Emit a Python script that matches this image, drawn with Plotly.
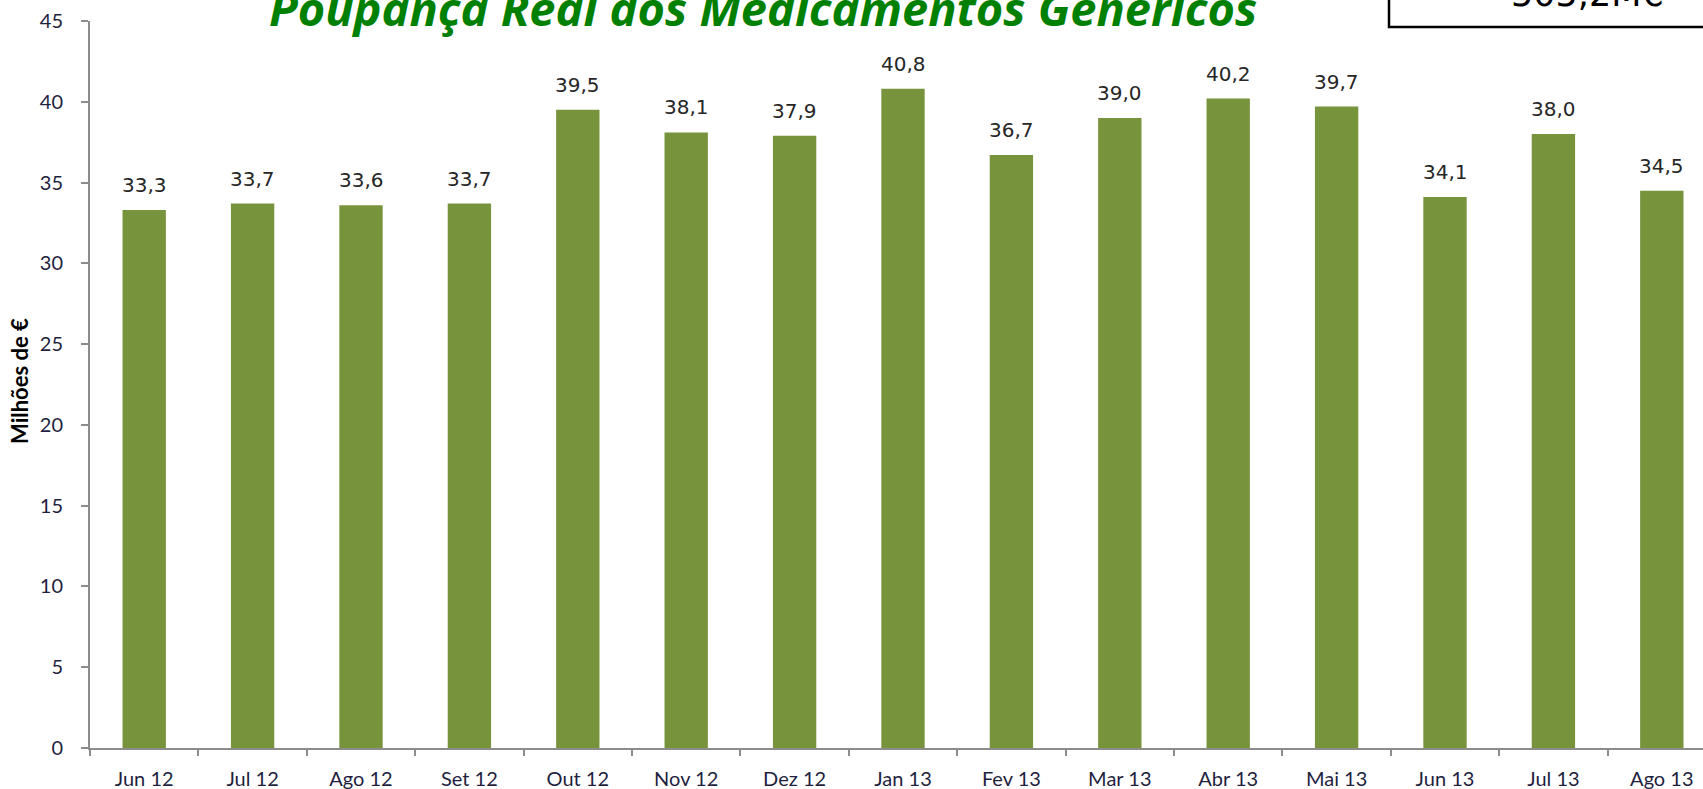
import plotly.graph_objects as go

categories = ["Jun 12", "Jul 12", "Ago 12", "Set 12", "Out 12", "Nov 12", "Dez 12",
              "Jan 13", "Fev 13", "Mar 13", "Abr 13", "Mai 13", "Jun 13", "Jul 13", "Ago 13"]
values = [33.3, 33.7, 33.6, 33.7, 39.5, 38.1, 37.9, 40.8, 36.7, 39.0, 40.2, 39.7, 34.1, 38.0, 34.5]
y_ticks = [0, 5, 10, 15, 20, 25, 30, 35, 40, 45]
title_text = "Poupança Real dos Medicamentos Genéricos"
total_text = "505,2M€"
y_title = "Milhões de €"

W, H = 1703, 789
ML, MR, MT, MB = 90, 0, 21, 41
PW, PH = W - ML - MR, H - MT - MB

def px_to_paper_x(px):
    return (px - ML) / PW

def px_to_paper_y(py):
    return 1 + (MT - py) / PH

fig = go.Figure()
fig.add_trace(go.Bar(
    x=categories, y=values, width=0.4,
    marker=dict(color="#77933C", line=dict(width=0)),
    hoverinfo="x+y",
))

annotations = []
for c, v in zip(categories, values):
    annotations.append(dict(
        x=c, y=v, xref="x", yref="y", text=f"{v:.1f}".replace(".", ","),
        showarrow=False, yanchor="bottom", xanchor="center", yshift=11,
        font=dict(family="DejaVu Sans", size=20, color="#262626"),
    ))

annotations.append(dict(
    xref="paper", yref="paper", x=px_to_paper_x(763), y=px_to_paper_y(42),
    xanchor="center", yanchor="bottom", showarrow=False, text=f"<b><i>{title_text}</i></b>",
    font=dict(family="Open Sans", size=47, color="#008000"),
))
annotations.append(dict(
    xref="paper", yref="paper", x=px_to_paper_x(1587), y=px_to_paper_y(16),
    xanchor="center", yanchor="bottom", showarrow=False, text=total_text,
    font=dict(family="DejaVu Sans", size=35, color="#000000"),
))
annotations.append(dict(
    xref="paper", yref="paper", x=px_to_paper_x(20), y=px_to_paper_y(381),
    xanchor="center", yanchor="middle", showarrow=False, text=f"<b>{y_title}</b>",
    textangle=-90, font=dict(family="Lato", size=22, color="#000000"),
))

fig.add_shape(type="rect", xref="paper", yref="paper",
              x0=px_to_paper_x(1389), x1=px_to_paper_x(1760),
              y0=px_to_paper_y(27), y1=px_to_paper_y(-40),
              line=dict(color="#000000", width=2.5), fillcolor="white", layer="below")

fig.update_layout(
    width=W, height=H,
    margin=dict(l=ML, r=MR, t=MT, b=MB, pad=0, autoexpand=False),
    paper_bgcolor="white", plot_bgcolor="white",
    showlegend=False,
    bargap=0.6,
    annotations=annotations,
    xaxis=dict(
        type="category", range=[-0.5, 14.38], automargin=False,
        showline=True, linecolor="#8C8C8C", linewidth=2,
        ticks="outside", tickson="boundaries", ticklen=6, tickcolor="#8C8C8C", tickwidth=2,
        showgrid=False, zeroline=False,
        tickfont=dict(family="Lato", size=20, color="#1F1F3F"),
        ticklabelstandoff=12,
    ),
    yaxis=dict(
        range=[0, 45], tickvals=y_ticks, ticktext=[str(t) for t in y_ticks], automargin=False,
        showline=True, linecolor="#8C8C8C", linewidth=2,
        ticks="outside", ticklen=7, tickcolor="#8C8C8C", tickwidth=2,
        showgrid=False, zeroline=False,
        tickfont=dict(family="Lato", size=20, color="#1F1F3F"),
        ticklabelstandoff=14,
    ),
)

fig.write_html("out.html")
